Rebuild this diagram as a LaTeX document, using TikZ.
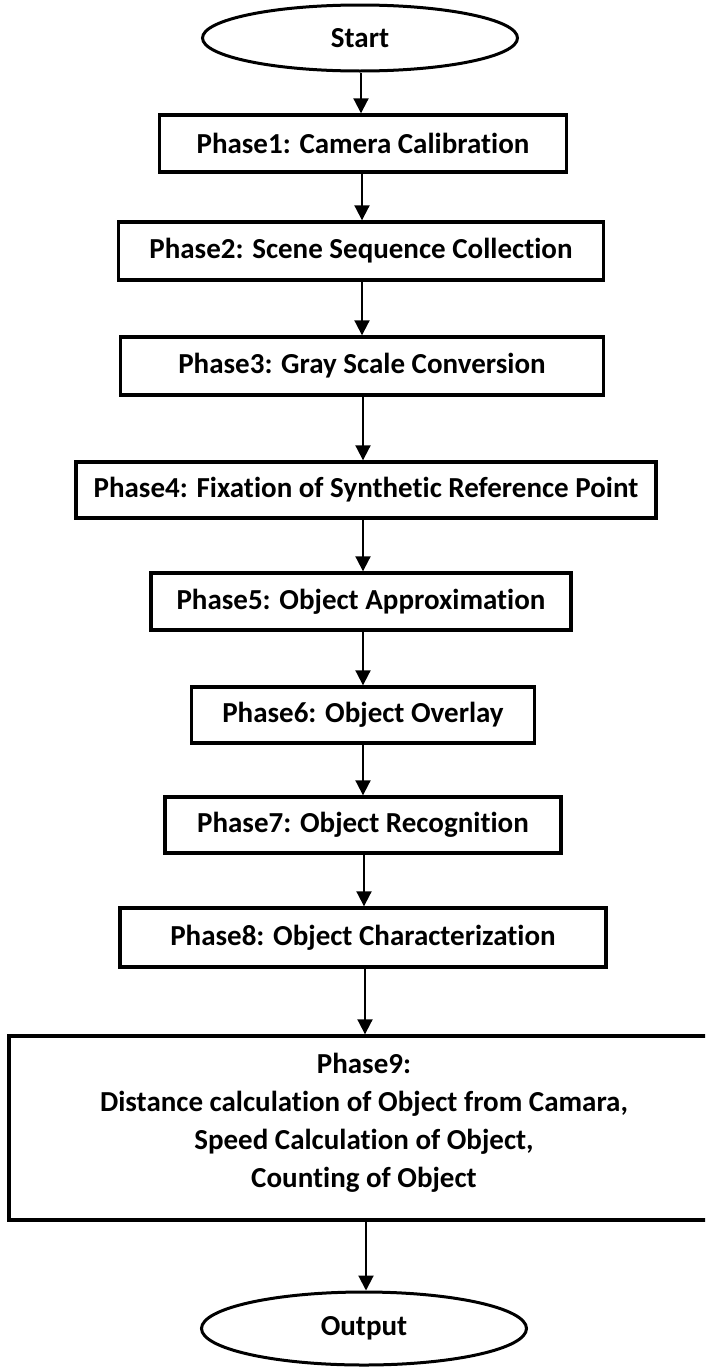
\documentclass[tikz,border=0pt]{standalone}
\usepackage{fontspec}
\setmainfont{Carlito}[Ligatures=NoCommon]
\usetikzlibrary{shapes.geometric,arrows.meta}
\tikzset{
  lbl/.style={font=\fontsize{29}{37}\selectfont\bfseries, align=center},
  phase/.style={lbl, draw=black, line width=3.4pt, rectangle, inner sep=0pt},
  term/.style={lbl, draw=black, line width=3pt, ellipse, inner sep=0pt},
  arr/.style={draw=black, line width=2pt, -{Triangle[length=15pt,width=15pt]}}
}
\begin{document}
\begin{tikzpicture}[x=1pt,y=-1pt]
\useasboundingbox (0,0) rectangle (705,1368);
\clip (0,0) rectangle (705,1368);
\fill[white] (0,0) rectangle (705,1368);
\node[term, minimum width=315pt, minimum height=66pt] (start) at (360,38) {Start};
\node[phase, minimum width=407pt, minimum height=57pt] (b1) at (363,143.5) {Phase1: Camera Calibration};
\node[phase, minimum width=485pt, minimum height=58pt] (b2) at (361,251) {Phase2: Scene Sequence Collection};
\node[phase, minimum width=483pt, minimum height=58pt] (b3) at (362,366) {Phase3: Gray Scale Conversion};
\node[phase, minimum width=580pt, minimum height=56pt] (b4) at (366,490) {Phase4: Fixation of Synthetic Reference Point};
\node[phase, minimum width=420pt, minimum height=57pt] (b5) at (361,601.5) {Phase5: Object Approximation};
\node[phase, minimum width=343pt, minimum height=56pt] (b6) at (363,715) {Phase6: Object Overlay};
\node[phase, minimum width=396pt, minimum height=56pt] (b7) at (363,825) {Phase7: Object Recognition};
\node[phase, minimum width=486pt, minimum height=59pt] (b8) at (363,937.5) {Phase8: Object Characterization};
\node[phase, minimum width=711pt, minimum height=184pt] (b9) at (364.5,1128) {};
\node[lbl, inner sep=0pt, font=\fontsize{29}{38}\selectfont\bfseries] (t9) at (364,1123)
  {Phase9:\\Distance calculation of Object from Camara,\\Speed Calculation of Object,\\Counting of Object};
\node[term, minimum width=325pt, minimum height=73pt] (out) at (364,1328.5) {Output};
\draw[arr] (start.south -| 361,0) -- (b1.north -| 361,0);
\draw[arr] (b1.south -| 362,0) -- (b2.north -| 362,0);
\draw[arr] (b2.south -| 362,0) -- (b3.north -| 362,0);
\draw[arr] (b3.south -| 363,0) -- (b4.north -| 363,0);
\draw[arr] (b4.south -| 363,0) -- (b5.north -| 363,0);
\draw[arr] (b5.south -| 363,0) -- (b6.north -| 363,0);
\draw[arr] (b6.south -| 363,0) -- (b7.north -| 363,0);
\draw[arr] (b7.south -| 364,0) -- (b8.north -| 364,0);
\draw[arr] (b8.south -| 365,0) -- (b9.north -| 365,0);
\draw[arr] (b9.south -| 366,0) -- (out.north -| 366,0);
\end{tikzpicture}
\end{document}
